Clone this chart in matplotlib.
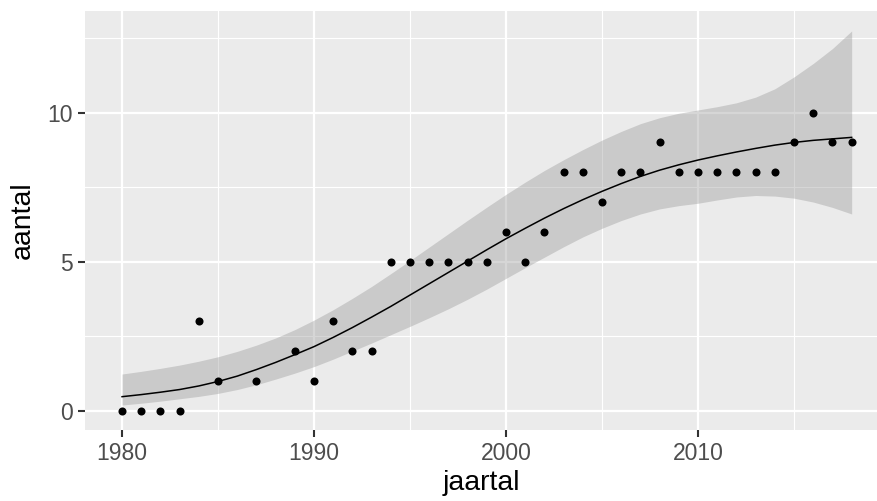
import matplotlib
matplotlib.use("Agg")
import matplotlib.pyplot as plt
from matplotlib.ticker import FixedLocator

# ---- data ----
jaartal = [1980, 1981, 1982, 1983, 1984, 1985, 1987, 1989, 1990, 1991, 1992, 1993,
           1994, 1995, 1996, 1997, 1998, 1999, 2000, 2001, 2002, 2003, 2004, 2005,
           2006, 2007, 2008, 2009, 2010, 2011, 2012, 2013, 2014, 2015, 2016, 2017, 2018]
aantal = [0, 0, 0, 0, 3, 1, 1, 2, 1, 3, 2, 2,
          5, 5, 5, 5, 5, 5, 6, 5, 6, 8, 8, 7,
          8, 8, 9, 8, 8, 8, 8, 8, 8, 9, 10, 9, 9]

# smoother (fit and confidence band), one value per year
smooth_x = list(range(1980, 2019))
smooth_fit = [0.47, 0.54, 0.62, 0.71, 0.83, 0.98, 1.16, 1.38, 1.62, 1.88,
              2.15, 2.46, 2.79, 3.14, 3.50, 3.88, 4.26, 4.64, 5.02, 5.40,
              5.77, 6.12, 6.46, 6.78, 7.08, 7.36, 7.62, 7.86, 8.07, 8.25,
              8.41, 8.55, 8.68, 8.80, 8.91, 9.00, 9.07, 9.12, 9.17]
smooth_hi = [1.23, 1.32, 1.42, 1.53, 1.66, 1.81, 1.99, 2.20, 2.44, 2.72,
             3.04, 3.39, 3.77, 4.17, 4.60, 5.04, 5.49, 5.94, 6.39, 6.83,
             7.26, 7.67, 8.06, 8.42, 8.76, 9.08, 9.37, 9.63, 9.83, 9.98,
             10.09, 10.20, 10.33, 10.52, 10.80, 11.20, 11.65, 12.15, 12.74]
smooth_lo = [0.19, 0.25, 0.32, 0.40, 0.48, 0.58, 0.71, 0.87, 1.06, 1.26,
             1.48, 1.73, 2.00, 2.27, 2.55, 2.83, 3.12, 3.42, 3.74, 4.08,
             4.44, 4.80, 5.15, 5.50, 5.83, 6.12, 6.38, 6.60, 6.77, 6.88,
             6.96, 7.07, 7.17, 7.22, 7.20, 7.13, 7.00, 6.82, 6.60]

x_major = [1980, 1990, 2000, 2010]
x_minor = [1985, 1995, 2005, 2015]
y_major = [0, 5, 10]
y_minor = [2.5, 7.5, 12.5]

W, H = 877, 501
fig = plt.figure(figsize=(W / 100, H / 100), dpi=100)
left, right, top, bottom = 85, 877, 11, 430
ax = fig.add_axes([left / W, (H - bottom) / H, (right - left) / W, (bottom - top) / H])

ax.set_facecolor("#EBEBEB")
for s in ax.spines.values():
    s.set_visible(False)

ax.set_xlim(1978.07, 2019.32)
ax.set_ylim(-0.648, 13.41)

ax.xaxis.set_major_locator(FixedLocator(x_major))
ax.xaxis.set_minor_locator(FixedLocator(x_minor))
ax.yaxis.set_major_locator(FixedLocator(y_major))
ax.yaxis.set_minor_locator(FixedLocator(y_minor))

ax.grid(which="major", color="white", linewidth=1.6)
ax.grid(which="minor", color="white", linewidth=0.8)
ax.set_axisbelow(True)

ax.tick_params(which="major", length=5, width=1.5, color="#333333",
               labelsize=16.5, labelcolor="#4D4D4D", pad=4)
ax.tick_params(which="minor", length=0)

font = ["Liberation Sans", "DejaVu Sans"]
for lbl in ax.get_xticklabels() + ax.get_yticklabels():
    lbl.set_family(font)

ax.fill_between(smooth_x, smooth_lo, smooth_hi, color="#999999", alpha=0.4,
                linewidth=0, zorder=2)
ax.plot(smooth_x, smooth_fit, color="black", linewidth=1.1, zorder=3)
ax.plot(jaartal, aantal, "o", color="black", markersize=5.8, markeredgewidth=0, zorder=4)

ax.set_xlabel("jaartal", fontsize=20.5, family=font, color="black", labelpad=3)
ax.set_ylabel("aantal", fontsize=20.5, family=font, color="black", labelpad=8)

fig.savefig("out.png", dpi=100)
